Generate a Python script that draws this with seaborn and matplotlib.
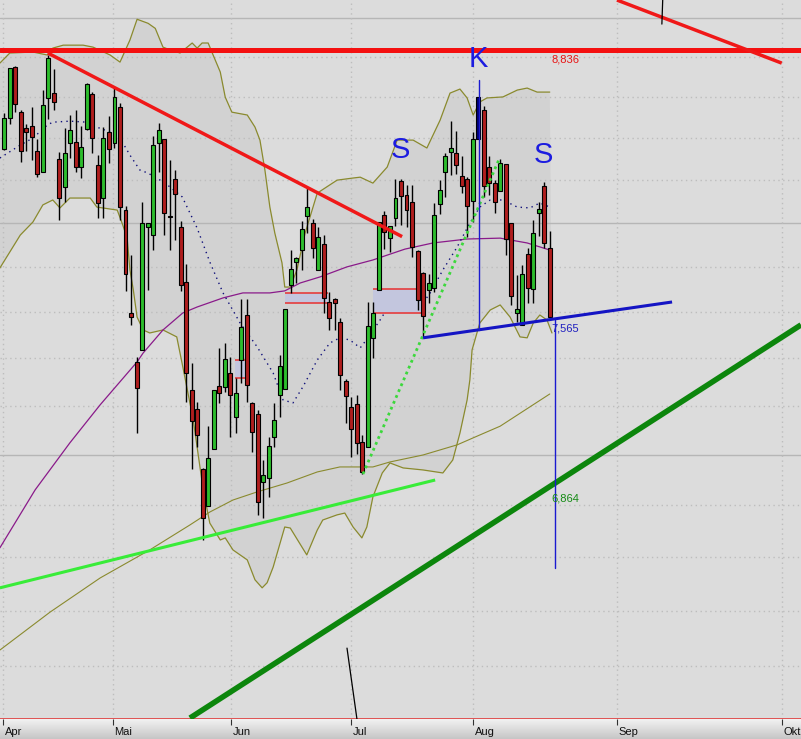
import numpy as np
import pandas as pd
import matplotlib
matplotlib.use("Agg")
import matplotlib.pyplot as plt
import seaborn as sns

# ---------------- data ----------------
opens = [8.347, 8.497, 8.750, 8.526, 8.449, 8.458, 8.337, 8.237, 8.596, 8.620,
         8.299, 8.166, 8.376, 8.380, 8.261, 8.444, 8.615, 8.271, 8.115, 8.429,
         8.376, 8.551, 8.059, 7.596, 7.385, 7.436, 7.981, 7.944, 8.376, 8.395,
         8.031, 8.204, 7.981, 7.732, 7.267, 7.188, 6.944, 6.798, 7.024, 7.284,
         7.280, 7.338, 7.155, 7.393, 7.587, 7.213, 7.167, 6.892, 6.908, 7.073,
         7.246, 7.271, 7.719, 7.822, 7.876, 8.031, 7.999, 7.786, 7.903, 7.644,
         7.657, 7.556, 7.305, 7.197, 7.209, 7.053, 7.032, 7.488, 7.697, 8.036,
         7.930, 8.022, 8.194, 8.129, 8.097, 7.872, 7.773, 7.697, 7.706, 8.087,
         8.237, 8.332, 8.328, 8.218, 8.204, 8.101, 8.395, 8.536, 8.261, 8.185,
         8.147, 8.275, 7.999, 7.596, 7.544, 7.858, 7.701, 8.045, 8.171, 7.885]
highs = [8.521, 8.745, 8.755, 8.536, 8.468, 8.551, 8.395, 8.635, 8.810, 8.740,
         8.332, 8.449, 8.512, 8.536, 8.458, 8.670, 8.625, 8.318, 8.453, 8.507,
         8.645, 8.571, 8.078, 7.854, 7.406, 8.097, 7.999, 8.410, 8.473, 8.395,
         8.294, 8.247, 8.008, 7.813, 7.380, 7.217, 6.948, 7.117, 7.267, 7.445,
         7.466, 7.406, 7.317, 7.657, 7.657, 7.217, 7.184, 6.980, 7.073, 7.213,
         7.415, 7.613, 7.876, 7.845, 8.008, 8.161, 8.018, 7.981, 7.944, 7.688,
         7.662, 7.574, 7.313, 7.238, 7.246, 7.081, 7.644, 7.644, 8.004, 8.054,
         7.986, 8.204, 8.204, 8.175, 8.175, 7.876, 7.777, 7.768, 8.092, 8.199,
         8.328, 8.482, 8.434, 8.313, 8.213, 8.429, 8.601, 8.556, 8.313, 8.199,
         8.299, 8.275, 7.999, 7.763, 7.808, 7.885, 8.013, 8.097, 8.190, 7.962]
lows = [8.342, 8.468, 8.526, 8.285, 8.337, 8.294, 8.213, 8.237, 8.492, 8.536,
        8.013, 8.097, 8.304, 8.237, 8.209, 8.439, 8.328, 8.022, 8.022, 8.280,
        8.352, 8.013, 7.693, 7.544, 7.089, 7.436, 7.697, 7.876, 8.237, 7.944,
        7.876, 7.921, 7.693, 7.217, 6.944, 7.032, 6.666, 6.798, 7.024, 7.213,
        7.259, 7.073, 7.089, 7.296, 7.217, 7.012, 6.763, 6.751, 6.833, 7.032,
        7.155, 7.271, 7.684, 7.728, 7.786, 7.953, 7.840, 7.786, 7.596, 7.522,
        7.522, 7.267, 7.130, 6.992, 7.004, 6.924, 7.032, 7.402, 7.697, 7.880,
        7.867, 7.986, 7.990, 7.981, 7.845, 7.609, 7.492, 7.640, 7.688, 8.041,
        8.120, 8.223, 8.228, 8.138, 7.935, 8.004, 8.395, 8.120, 8.129, 8.045,
        8.147, 7.854, 7.631, 7.556, 7.544, 7.640, 7.640, 7.939, 7.885, 7.574]
closes = [8.497, 8.745, 8.566, 8.337, 8.429, 8.405, 8.228, 8.561, 8.795, 8.576,
          8.115, 8.328, 8.439, 8.261, 8.356, 8.665, 8.400, 8.092, 8.400, 8.347,
          8.601, 8.073, 7.768, 7.578, 7.275, 7.999, 7.999, 8.366, 8.439, 8.045,
          8.027, 8.134, 7.719, 7.338, 7.138, 7.081, 6.751, 6.988, 7.267, 7.254,
          7.397, 7.246, 7.254, 7.535, 7.288, 7.093, 6.813, 6.920, 7.036, 7.142,
          7.368, 7.613, 7.790, 7.840, 7.972, 8.073, 7.885, 7.935, 7.662, 7.574,
          7.640, 7.330, 7.242, 7.105, 7.049, 6.932, 7.539, 7.596, 8.004, 7.958,
          7.986, 8.115, 8.124, 8.059, 7.890, 7.653, 7.583, 7.728, 8.036, 8.152,
          8.313, 8.352, 8.271, 8.171, 8.078, 8.395, 8.601, 8.171, 8.185, 8.097,
          8.280, 7.926, 7.671, 7.613, 7.768, 7.706, 7.953, 8.064, 7.908, 7.578]
highlight_bar = 86  # the "K" candle drawn in navy

month_labels = ["Apr", "Mai", "Jun", "Jul", "Aug", "Sep", "Okt"]
month_pos = [-0.2, 19.7, 41.2, 62.9, 85.1, 111.2, 141.1]

bb_up_x = [-0.8, 1.0, 5.2, 7.8, 8.8, 10.7, 14.3, 16.1, 19.2, 20.5, 21.0, 22.8, 24.1,
           26.1, 27.4, 28.8, 29.7, 31.9, 34.1, 35.0, 35.9, 37.0, 37.9, 39.2, 40.1,
           41.3, 44.1, 45.5, 46.4, 47.3, 48.2, 49.1, 50.4, 50.9, 51.9, 53.1, 54.6,
           56.8, 60.4, 63.3, 64.6, 66.9, 69.5, 71.3, 74.2, 76.7, 79.1, 80.9, 82.7,
           84.0, 85.1, 86.3, 87.6, 90.5, 93.1, 94.9, 96.7, 99.0]
bb_up = [8.770, 8.821, 8.826, 8.811, 8.846, 8.861, 8.861, 8.851, 8.811, 8.785, 8.775,
         8.887, 8.994, 8.973, 8.947, 8.851, 8.841, 8.821, 8.872, 8.846, 8.872, 8.872,
         8.811, 8.725, 8.600, 8.526, 8.512, 8.453, 8.390, 8.247, 8.073, 7.953, 7.818,
         7.710, 7.710, 7.786, 7.953, 8.138, 8.199, 8.209, 8.213, 8.185, 8.261, 8.390,
         8.390, 8.352, 8.487, 8.620, 8.640, 8.596, 8.512, 8.576, 8.596, 8.601, 8.635,
         8.645, 8.625, 8.625]
bb_lo_x = [-0.8, 1.0, 2.9, 5.2, 7.0, 8.8, 10.1, 11.9, 15.6, 16.8, 20.5, 21.5, 22.3,
           22.8, 23.4, 24.1, 25.2, 26.4, 28.8, 31.3, 32.4, 34.3, 36.1, 37.3, 39.2,
           40.1, 41.5, 44.1, 45.5, 46.8, 47.7, 48.8, 50.9, 51.9, 54.9, 56.8, 57.8,
           60.4, 61.8, 63.3, 64.9, 65.8, 66.9, 68.6, 70.0, 72.4, 76.0, 79.6, 81.4,
           82.7, 84.0, 84.5, 84.9, 86.3, 88.2, 90.0, 91.8, 93.6, 94.9, 96.0, 97.2,
           98.5, 99.4]
bb_lo = [7.795, 7.867, 7.944, 8.004, 8.083, 8.106, 8.069, 8.115, 8.115, 8.073, 8.059,
         7.990, 7.930, 7.786, 7.700, 7.578, 7.522, 7.509, 7.522, 7.492, 7.364, 7.142,
         6.861, 6.731, 6.666, 6.674, 6.628, 6.590, 6.515, 6.485, 6.504, 6.563, 6.716,
         6.712, 6.609, 6.704, 6.743, 6.763, 6.770, 6.716, 6.674, 6.716, 6.833, 6.928,
         6.968, 6.948, 6.940, 6.928, 6.980, 7.089, 7.225, 7.309, 7.436, 7.552, 7.609,
         7.631, 7.578, 7.492, 7.488, 7.552, 7.587, 7.565, 7.509]

ma20_x = [-0.8, 2.9, 5.2, 7.8, 8.8, 11.9, 15.0, 16.8, 19.2, 21.0, 22.8, 24.6, 26.1,
          29.2, 32.3, 35.0, 37.3, 39.7, 42.8, 45.9, 48.8, 50.6, 52.4, 54.2, 56.8,
          59.1, 60.9, 62.7, 64.6, 66.0, 68.2, 70.5, 72.4, 74.9, 76.0, 77.3, 79.6,
          82.2, 84.5, 86.3, 88.2, 90.5, 93.1, 95.4, 97.2, 99.0]
ma20 = [8.304, 8.366, 8.400, 8.463, 8.477, 8.482, 8.477, 8.453, 8.429, 8.400, 8.318,
        8.247, 8.232, 8.185, 8.120, 7.976, 7.822, 7.684, 7.552, 7.449, 7.338, 7.225,
        7.213, 7.280, 7.393, 7.466, 7.488, 7.479, 7.445, 7.488, 7.565, 7.653, 7.688,
        7.666, 7.640, 7.684, 7.786, 7.890, 7.999, 8.073, 8.106, 8.106, 8.073, 8.069,
        8.092, 8.073]
ma50_x = [-0.8, 5.6, 11.9, 17.4, 24.1, 25.2, 28.8, 32.4, 35.0, 39.7, 43.3, 48.2, 50.9,
          53.7, 57.3, 62.2, 66.9, 72.7, 77.8, 84.0, 90.0, 94.9, 99.0]
ma50 = [6.636, 6.861, 7.049, 7.205, 7.385, 7.423, 7.522, 7.596, 7.622, 7.662, 7.684,
        7.684, 7.693, 7.728, 7.755, 7.800, 7.831, 7.880, 7.908, 7.926, 7.930, 7.908,
        7.876]
ma200_x = [-0.8, 8.3, 17.4, 26.4, 33.7, 37.3, 41.5, 45.9, 51.3, 56.8, 60.9, 66.9,
           70.0, 76.0, 82.2, 86.3, 90.0, 99.0]
ma200 = [6.257, 6.395, 6.522, 6.628, 6.724, 6.774, 6.821, 6.853, 6.888, 6.932, 6.952,
         6.952, 6.972, 7.000, 7.041, 7.081, 7.117, 7.250]

gap_x0 = [51.0, 66.9, 41.9]
gap_x1 = [58.7, 76.0, 44.0]
gap_lo = [7.640, 7.596, 7.317]
gap_hi = [7.684, 7.701, 7.393]

resistance_level = 8.836
neck_target = 7.565
price_target = 6.864
downtrend_x, downtrend_y = [7.9, 72.2], [8.821, 7.937]
upper_red_x, upper_red_y = [111.2, 141.1], [9.094, 8.770]
long_up_x, long_up_y = [33.7, 144.6], [6.017, 7.544]
support_x, support_y = [-0.8, 78.2], [6.485, 6.900]
dotted_up_x, dotted_up_y = [65.1, 89.9], [6.924, 8.304]
neck_x, neck_y = [76.0, 121.2], [7.488, 7.644]
k_line_x, k_line_y = [86.15, 86.15], [8.685, 7.522]
target_line_x, target_line_y = [99.95, 99.95], [7.565, 6.560]
black_top_x, black_top_y = [119.5, 119.35], [9.094, 8.969]
black_bot_x, black_bot_y = [62.2, 64.0], [6.264, 6.014]

# ---------------- figure ----------------
sns.set_style("white")
W, H = 801, 739
fig = plt.figure(figsize=(W / 100, H / 100), dpi=100)
fig.patch.set_facecolor("#dcdcdc")
ax = fig.add_axes([0, 20 / H, 1, 719 / H])
ax.set_facecolor("#dcdcdc")
ax.set_yscale("log")
XL = (-0.78, 144.6)
ax.set_xlim(*XL)
ax.set_ylim(6.0137, 9.0942)
ax.set_xticks([])
ax.set_yticks([])
ax.set_yticks([], minor=True)
for s in ["top", "left", "right"]:
    ax.spines[s].set_visible(False)
ax.spines["bottom"].set_color("#e04848")
ax.spines["bottom"].set_linewidth(1.3)

# bollinger band fill
ax.fill(bb_up_x + bb_lo_x[::-1], bb_up + bb_lo[::-1], color="#d2d2d2", lw=0, zorder=1)

# grid
for lv in np.round(np.arange(6.2, 9.01, 0.2), 1):
    if abs(lv - round(lv)) < 1e-6:
        ax.axhline(lv, color="#b6b6b6", lw=1, zorder=1.5)
    else:
        ax.axhline(lv, color="#bdbdbd", lw=1, ls=(0, (1, 2.5)), zorder=1.5)
for mp in month_pos:
    ax.axvline(mp, color="#bdbdbd", lw=1, ls=(0, (1, 2.5)), zorder=1.5)

# band lines and moving averages (seaborn)
olive = "#8a8a2e"
for xs, ys, col, ls, lw in [(bb_up_x, bb_up, olive, "-", 0.9),
                            (bb_lo_x, bb_lo, olive, "-", 0.9),
                            (ma200_x, ma200, olive, "-", 0.8),
                            (ma50_x, ma50, "#8a1a8a", "-", 0.9),
                            (ma20_x, ma20, "#10107a", (0, (1, 3)), 1.0)]:
    df = pd.DataFrame({"x": xs, "y": ys})
    sns.lineplot(data=df, x="x", y="y", ax=ax, color=col, lw=lw, ls=ls,
                 sort=False, estimator=None, legend=False, zorder=2)

# gap boxes
for x0, x1, lo, hi in zip(gap_x0, gap_x1, gap_lo, gap_hi):
    ax.fill_between([x0, x1], lo, hi, color="#c3c6de", lw=0, zorder=2.2)
    ax.hlines([lo, hi], x0, x1, color="#e83030", lw=1.1, zorder=2.3)

# candles
idx = np.arange(len(opens))
o = np.array(opens)
c = np.array(closes)
cols = np.where(c >= o, "#2dbd2d", "#b01e1e").astype(object)
cols[highlight_bar] = "#000078"
ax.vlines(idx, lows, highs, color="black", lw=1, zorder=3)
ax.bar(idx, np.abs(c - o), bottom=np.minimum(o, c), width=0.72, color=list(cols),
       edgecolor="black", linewidth=0.8, zorder=3.1)

# trend lines
ax.axhline(resistance_level, color="#f41010", lw=3.6, zorder=4)
ax.plot(downtrend_x, downtrend_y, color="#f01818", lw=2.5, zorder=4, solid_capstyle="butt")
ax.plot(upper_red_x, upper_red_y, color="#f01818", lw=2.5, zorder=4, solid_capstyle="butt")
ax.plot(long_up_x, long_up_y, color="#0c860c", lw=4, zorder=4, solid_capstyle="butt")
ax.plot(support_x, support_y, color="#38ec38", lw=2.2, zorder=4, solid_capstyle="butt")
ax.plot(dotted_up_x, dotted_up_y, color="#3cd83c", lw=2.0, ls=(0, (1, 1.3)), zorder=4)
ax.plot(neck_x, neck_y, color="#1414c4", lw=2.2, zorder=4, solid_capstyle="butt")
ax.plot(k_line_x, k_line_y, color="#1a1ad0", lw=1, zorder=4)
ax.plot(target_line_x, target_line_y, color="#1a1ad0", lw=1, zorder=4)
ax.plot(black_top_x, black_top_y, color="black", lw=0.9, zorder=4)
ax.plot(black_bot_x, black_bot_y, color="black", lw=0.9, zorder=4)

# texts
fnt = "Liberation Sans"
ax.text(99.36, 8.775, "8,836", color="#e81414", fontsize=8, family=fnt,
        ha="left", va="baseline", zorder=5)
ax.text(99.36, 7.517, "7,565", color="#2020c0", fontsize=8, family=fnt,
        ha="left", va="baseline", zorder=5)
ax.text(99.36, 6.817, "6,864", color="#138a13", fontsize=8, family=fnt,
        ha="left", va="baseline", zorder=5)
big = dict(color="#1c1ce0", fontsize=21, family=fnt, ha="center", va="baseline", zorder=5)
ax.text(85.95, 8.750, "K", **big)
ax.text(71.97, 8.304, "S", **big)
ax.text(97.8, 8.282, "S", **big)

# bottom date strip
ax2 = fig.add_axes([0, 0, 1, 20 / H])
grad = np.linspace(0, 1, 50).reshape(-1, 1)
ax2.imshow(grad, extent=(XL[0], XL[1], 0, 1), aspect="auto", origin="upper",
           cmap=matplotlib.colors.LinearSegmentedColormap.from_list(
               "g", ["#f2f2f2", "#c6c6c6"]), zorder=0)
ax2.set_xlim(*XL)
ax2.set_ylim(0, 1)
ax2.axis("off")
ax2.vlines(month_pos, 0.72, 1.0, color="#303030", lw=0.8)
for mp, lab in zip(month_pos, month_labels):
    ax2.text(mp + 0.3, 0.2, lab, fontsize=8, family=fnt, color="#101010",
             ha="left", va="baseline")

fig.savefig("out.png", dpi=100)
